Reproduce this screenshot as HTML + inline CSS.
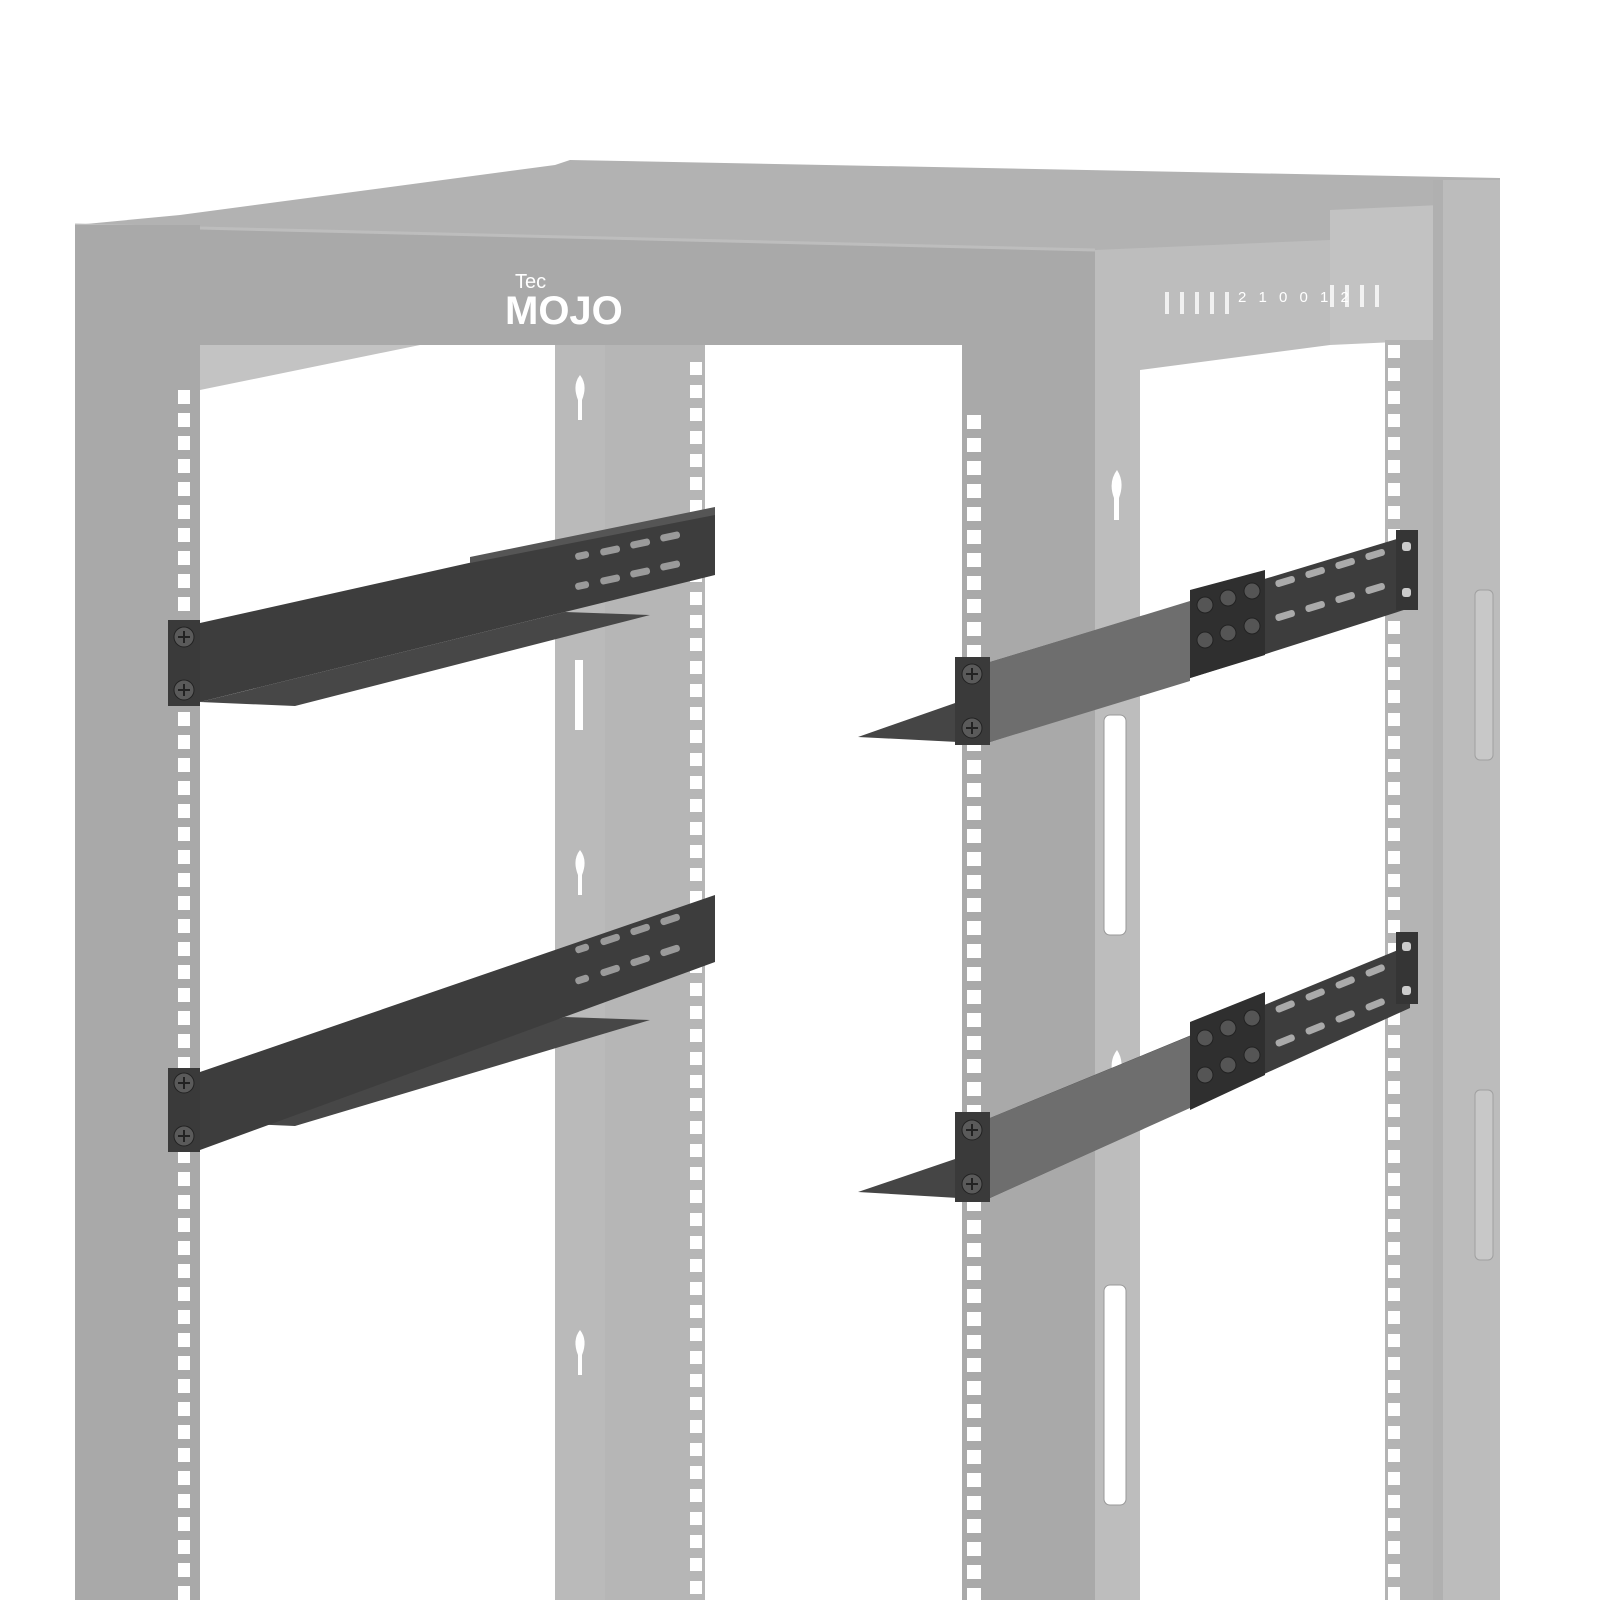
<!DOCTYPE html>
<html><head><meta charset="utf-8"><style>html,body{margin:0;padding:0;background:#fff}svg{display:block}</style></head>
<body>
<svg width="1600" height="1600" viewBox="0 0 1600 1600" xmlns="http://www.w3.org/2000/svg">
<defs>
<pattern id="h1" x="178" y="390" width="40" height="23" patternUnits="userSpaceOnUse"><rect x="0" y="0" width="12" height="14" fill="#fff"/></pattern>
<pattern id="h2" x="690" y="362" width="40" height="23" patternUnits="userSpaceOnUse"><rect x="0" y="0" width="12" height="13" fill="#fff"/></pattern>
<pattern id="h3" x="967" y="415" width="40" height="23" patternUnits="userSpaceOnUse"><rect x="0" y="0" width="14" height="14" fill="#fff"/></pattern>
<pattern id="h4" x="1388" y="345" width="40" height="23" patternUnits="userSpaceOnUse"><rect x="0" y="0" width="12" height="13" fill="#fff"/></pattern>
</defs>
<rect width="1600" height="1600" fill="#fff"/>
<polygon points="75,225 180,215 555,165 570,160 1500,178 1500,250 1095,250 1095,345 75,345" fill="#b2b2b2"/>
<polygon points="75,225 1095,250 1095,345 75,345" fill="#a9a9a9"/>
<line x1="75" y1="225" x2="1095" y2="250" stroke="#bdbdbd" stroke-width="3"/>
<rect x="555" y="345" width="150" height="1255" fill="#b6b6b6"/>
<rect x="555" y="345" width="50" height="1255" fill="#bababa"/>
<rect x="690" y="362" width="12" height="1238" fill="url(#h2)"/>
<path d="M580 375 q-8 10 -2 25 l0 20 l4 0 l0 -20 q6 -15 -2 -25z" fill="#fff"/>
<path d="M580 850 q-8 10 -2 25 l0 20 l4 0 l0 -20 q6 -15 -2 -25z" fill="#fff"/>
<path d="M580 1330 q-8 10 -2 25 l0 20 l4 0 l0 -20 q6 -15 -2 -25z" fill="#fff"/>
<rect x="575" y="660" width="8" height="70" fill="#fff"/>
<polygon points="200,345 420,345 200,390" fill="#c3c3c3"/>
<rect x="75" y="225" width="125" height="1375" fill="#a9a9a9"/>
<rect x="178" y="390" width="12" height="1210" fill="url(#h1)"/>
<polygon points="1095,250 1330,240 1330,345 1140,370 1095,370" fill="#bdbdbd"/>
<polygon points="1330,210 1440,205 1440,340 1330,345" fill="#c2c2c2"/>
<rect x="962" y="345" width="133" height="1255" fill="#a9a9a9"/>
<rect x="1095" y="345" width="45" height="1255" fill="#bdbdbd"/>
<rect x="967" y="415" width="14" height="1185" fill="url(#h3)"/>
<path d="M1117 470 q-9 12 -3 28 l0 22 l5 0 l0 -22 q6 -16 -2 -28z" fill="#fff"/>
<path d="M1117 1050 q-9 12 -3 28 l0 22 l5 0 l0 -22 q6 -16 -2 -28z" fill="#fff"/>
<rect x="1104" y="715" width="22" height="220" rx="6" fill="#fff" stroke="#999"/>
<rect x="1104" y="1285" width="22" height="220" rx="6" fill="#fff" stroke="#999"/>
<rect x="1385" y="340" width="55" height="1260" fill="#b4b4b4"/>
<rect x="1440" y="180" width="60" height="1420" fill="#bcbcbc"/>
<rect x="1433" y="180" width="10" height="1420" fill="#b0b0b0"/>
<rect x="1388" y="345" width="12" height="1255" fill="url(#h4)"/>
<rect x="1475" y="590" width="18" height="170" rx="5" fill="#c8c8c8" stroke="#a0a0a0"/>
<rect x="1475" y="1090" width="18" height="170" rx="5" fill="#c8c8c8" stroke="#a0a0a0"/>
<text x="515" y="288" font-family="Liberation Sans, sans-serif" font-size="20" fill="#fff">Tec</text>
<text x="505" y="324" font-family="Liberation Sans, sans-serif" font-size="40" font-weight="bold" fill="#fff">MOJO</text>
<text x="1238" y="302" font-family="Liberation Sans, sans-serif" font-size="15" fill="#fff" letter-spacing="4">2 1 0   0 1 2</text>
<g fill="#fff" opacity="0.8">
<rect x="1165" y="292" width="4" height="22"/><rect x="1180" y="292" width="4" height="22"/><rect x="1195" y="292" width="4" height="22"/><rect x="1210" y="292" width="4" height="22"/><rect x="1225" y="292" width="4" height="22"/>
<rect x="1330" y="285" width="4" height="22"/><rect x="1345" y="285" width="4" height="22"/><rect x="1360" y="285" width="4" height="22"/><rect x="1375" y="285" width="4" height="22"/>
</g>
<g>
<polygon points="200,702 295,706 650,615 565,612" fill="#474747"/>
<polygon points="200,623 715,508 715,575 200,702" fill="#3d3d3d"/>
<polygon points="470,557 715,507 715,515 470,563" fill="#555"/>
<g fill="#9a9a9a">
<rect x="575" y="552" width="14" height="7" rx="3" transform="rotate(-12 582 555)"/>
<rect x="600" y="547" width="20" height="7" rx="3" transform="rotate(-12 610 550)"/>
<rect x="630" y="540" width="20" height="7" rx="3" transform="rotate(-12 640 543)"/>
<rect x="660" y="533" width="20" height="7" rx="3" transform="rotate(-12 670 536)"/>
<rect x="575" y="582" width="14" height="7" rx="3" transform="rotate(-12 582 585)"/>
<rect x="600" y="576" width="20" height="7" rx="3" transform="rotate(-12 610 579)"/>
<rect x="630" y="569" width="20" height="7" rx="3" transform="rotate(-12 640 572)"/>
<rect x="660" y="562" width="20" height="7" rx="3" transform="rotate(-12 670 565)"/>
</g>
<rect x="168" y="620" width="32" height="86" fill="#3a3a3a"/>
<circle cx="184" cy="637" r="10" fill="#5a5a5a" stroke="#222"/>
<circle cx="184" cy="690" r="10" fill="#5a5a5a" stroke="#222"/>
<path d="M178 637h12M184 631v12M178 690h12M184 684v12" stroke="#222" stroke-width="2"/>
</g>
<g transform="translate(0,420)">
<polygon points="200,702 295,706 650,600 565,597" fill="#474747"/>
<polygon points="200,652 715,475 715,542 200,730" fill="#3d3d3d"/>
<g fill="#9a9a9a">
<rect x="575" y="525" width="14" height="7" rx="3" transform="rotate(-18 582 528)"/>
<rect x="600" y="516" width="20" height="7" rx="3" transform="rotate(-18 610 519)"/>
<rect x="630" y="506" width="20" height="7" rx="3" transform="rotate(-18 640 509)"/>
<rect x="660" y="496" width="20" height="7" rx="3" transform="rotate(-18 670 499)"/>
<rect x="575" y="556" width="14" height="7" rx="3" transform="rotate(-18 582 559)"/>
<rect x="600" y="547" width="20" height="7" rx="3" transform="rotate(-18 610 550)"/>
<rect x="630" y="537" width="20" height="7" rx="3" transform="rotate(-18 640 540)"/>
<rect x="660" y="527" width="20" height="7" rx="3" transform="rotate(-18 670 530)"/>
</g>
<rect x="168" y="648" width="32" height="84" fill="#3a3a3a"/>
<circle cx="184" cy="663" r="10" fill="#5a5a5a" stroke="#222"/>
<circle cx="184" cy="716" r="10" fill="#5a5a5a" stroke="#222"/>
<path d="M178 663h12M184 657v12M178 716h12M184 710v12" stroke="#222" stroke-width="2"/>
</g>
<g>
<polygon points="858,737 958,702 958,742" fill="#454545"/>
<polygon points="990,662 1410,535 1410,608 990,742" fill="#3d3d3d"/>
<polygon points="990,662 1190,601 1190,681 990,742" fill="#6e6e6e"/>
<polygon points="1190,590 1265,570 1265,655 1190,678" fill="#2f2f2f"/>
<g fill="#555" stroke="#222"><circle cx="1205" cy="605" r="8"/><circle cx="1228" cy="598" r="8"/><circle cx="1252" cy="591" r="8"/><circle cx="1205" cy="640" r="8"/><circle cx="1228" cy="633" r="8"/><circle cx="1252" cy="626" r="8"/></g>
<g fill="#aaa">
<rect x="1275" y="578" width="20" height="7" rx="3" transform="rotate(-17 1285 581)"/>
<rect x="1305" y="569" width="20" height="7" rx="3" transform="rotate(-17 1315 572)"/>
<rect x="1335" y="560" width="20" height="7" rx="3" transform="rotate(-17 1345 563)"/>
<rect x="1365" y="551" width="20" height="7" rx="3" transform="rotate(-17 1375 554)"/>
<rect x="1275" y="612" width="20" height="7" rx="3" transform="rotate(-17 1285 615)"/>
<rect x="1305" y="603" width="20" height="7" rx="3" transform="rotate(-17 1315 606)"/>
<rect x="1335" y="594" width="20" height="7" rx="3" transform="rotate(-17 1345 597)"/>
<rect x="1365" y="585" width="20" height="7" rx="3" transform="rotate(-17 1375 588)"/>
</g>
<rect x="1396" y="530" width="22" height="80" fill="#353535"/>
<rect x="1402" y="542" width="9" height="9" rx="3" fill="#ccc"/><rect x="1402" y="588" width="9" height="9" rx="3" fill="#ccc"/>
<rect x="955" y="657" width="35" height="88" fill="#3a3a3a"/>
<circle cx="972" cy="674" r="10" fill="#5a5a5a" stroke="#222"/>
<circle cx="972" cy="728" r="10" fill="#5a5a5a" stroke="#222"/>
<path d="M966 674h12M972 668v12M966 728h12M972 722v12" stroke="#222" stroke-width="2"/>
</g>
<g>
<polygon points="858,1192 958,1158 958,1198" fill="#454545"/>
<polygon points="990,1118 1410,945 1410,1008 990,1198" fill="#3d3d3d"/>
<polygon points="990,1118 1190,1036 1190,1108 990,1198" fill="#6e6e6e"/>
<polygon points="1190,1022 1265,992 1265,1075 1190,1110" fill="#2f2f2f"/>
<g fill="#555" stroke="#222"><circle cx="1205" cy="1038" r="8"/><circle cx="1228" cy="1028" r="8"/><circle cx="1252" cy="1018" r="8"/><circle cx="1205" cy="1075" r="8"/><circle cx="1228" cy="1065" r="8"/><circle cx="1252" cy="1055" r="8"/></g>
<g fill="#aaa">
<rect x="1275" y="1003" width="20" height="7" rx="3" transform="rotate(-22 1285 1006)"/>
<rect x="1305" y="991" width="20" height="7" rx="3" transform="rotate(-22 1315 994)"/>
<rect x="1335" y="979" width="20" height="7" rx="3" transform="rotate(-22 1345 982)"/>
<rect x="1365" y="967" width="20" height="7" rx="3" transform="rotate(-22 1375 970)"/>
<rect x="1275" y="1037" width="20" height="7" rx="3" transform="rotate(-22 1285 1040)"/>
<rect x="1305" y="1025" width="20" height="7" rx="3" transform="rotate(-22 1315 1028)"/>
<rect x="1335" y="1013" width="20" height="7" rx="3" transform="rotate(-22 1345 1016)"/>
<rect x="1365" y="1001" width="20" height="7" rx="3" transform="rotate(-22 1375 1004)"/>
</g>
<rect x="1396" y="932" width="22" height="72" fill="#353535"/>
<rect x="1402" y="942" width="9" height="9" rx="3" fill="#ccc"/><rect x="1402" y="986" width="9" height="9" rx="3" fill="#ccc"/>
<rect x="955" y="1112" width="35" height="90" fill="#3a3a3a"/>
<circle cx="972" cy="1130" r="10" fill="#5a5a5a" stroke="#222"/>
<circle cx="972" cy="1184" r="10" fill="#5a5a5a" stroke="#222"/>
<path d="M966 1130h12M972 1124v12M966 1184h12M972 1178v12" stroke="#222" stroke-width="2"/>
</g>
</svg>
</body></html>
